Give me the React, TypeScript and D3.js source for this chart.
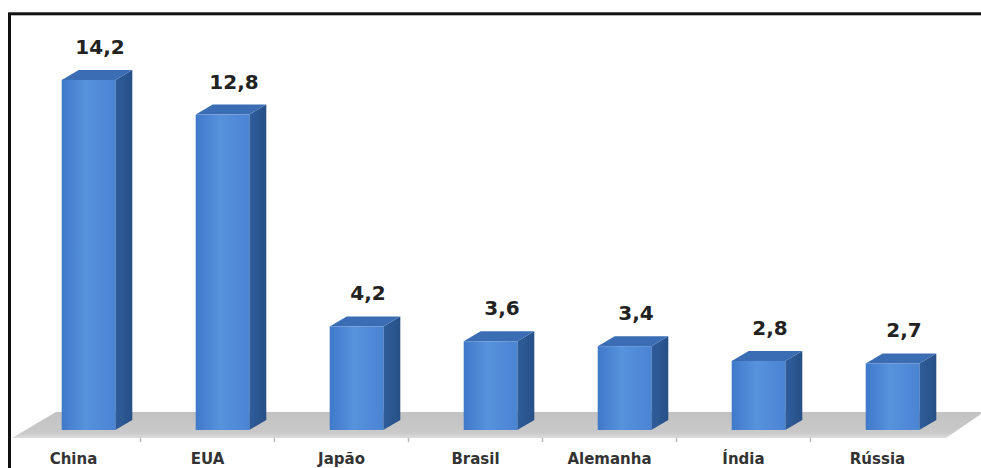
import * as d3 from "d3";

const categories = ["China", "EUA", "Japão", "Brasil", "Alemanha", "Índia", "Rússia"];
const values = [14.2, 12.8, 4.2, 3.6, 3.4, 2.8, 2.7];

const W = 981;
const H = 468;
const depthX = 17;
const depthY = 10;
const labelShift = -15; // category labels sit on the front edge of the floor

const ptFormat = d3.formatLocale({ decimal: ",", thousands: ".", grouping: [3], currency: ["", ""] }).format(".1f");

export default function App() {
  const x = d3.scaleBand<string>()
    .domain(categories)
    .range([21.5, 959.5])
    .paddingInner(0.6)
    .paddingOuter(0.3);

  const y = d3.scaleLinear().domain([0, 14.2]).range([430, 80]);

  const base = y(0);
  const bw = x.bandwidth();
  const step = x.step();

  // floor parallelogram
  const floor = [[12, 438], [56, 412], [984, 412], [946, 438]];
  const floorPath = d3.line()(floor as [number, number][]) + "Z";

  return (
    <svg
      width={W}
      height={H}
      style={{ position: "absolute", left: 0, top: 0, background: "#fff" }}
      fontFamily="'DejaVu Sans', Verdana, sans-serif"
    >
      <defs>
        <linearGradient id="front" x1="0" x2="1" y1="0" y2="0">
          <stop offset="0" stopColor="#3f79c9" />
          <stop offset="0.45" stopColor="#5792dd" />
          <stop offset="1" stopColor="#4a84d3" />
        </linearGradient>
        <linearGradient id="side" x1="0" x2="1" y1="0" y2="0">
          <stop offset="0" stopColor="#2f5e9c" />
          <stop offset="1" stopColor="#274f86" />
        </linearGradient>
        <linearGradient id="floorGrad" x1="0" x2="0" y1="0" y2="1">
          <stop offset="0" stopColor="#c2c2c2" />
          <stop offset="0.8" stopColor="#c9c9c9" />
          <stop offset="1" stopColor="#dcdcdc" />
        </linearGradient>
      </defs>

      <rect x={9.5} y={13.8} width={1000} height={500} fill="#fff" stroke="#111" strokeWidth={3} />

      <path d={floorPath} fill="url(#floorGrad)" />

      {/* boundary ticks on the floor front edge */}
      {categories.slice(0, -1).map((c) => {
        const tx = (x(c) ?? 0) + bw / 2 + step / 2 + labelShift;
        return <line key={`t-${c}`} x1={tx} x2={tx} y1={438} y2={442} stroke="#b8b8b8" strokeWidth={1.5} />;
      })}

      {categories.map((c, i) => {
        const x0 = x(c) ?? 0;
        const x1 = x0 + bw;
        const top = y(values[i]);
        const topFace = `M${x0},${top}L${x0 + depthX},${top - depthY}L${x1 + depthX},${top - depthY}L${x1},${top}Z`;
        const sideFace = `M${x1},${top}L${x1 + depthX},${top - depthY}L${x1 + depthX},${base - depthY}L${x1},${base}Z`;
        return (
          <g key={c}>
            <path d={sideFace} fill="url(#side)" />
            <path d={topFace} fill="#3a6db4" />
            <rect x={x0} y={top} width={bw} height={base - top} fill="url(#front)" />
            <text
              x={x0 + bw / 2 + depthX / 2 + 3}
              y={top - 26}
              textAnchor="middle"
              fontSize={20}
              fontWeight="bold"
              fill="#222"
            >
              {ptFormat(values[i])}
            </text>
            <text
              x={x0 + bw / 2 + labelShift}
              y={463.5}
              textAnchor="middle"
              fontSize={15}
              fontWeight="bold"
              fill="#333"
            >
              {c}
            </text>
          </g>
        );
      })}
    </svg>
  );
}
